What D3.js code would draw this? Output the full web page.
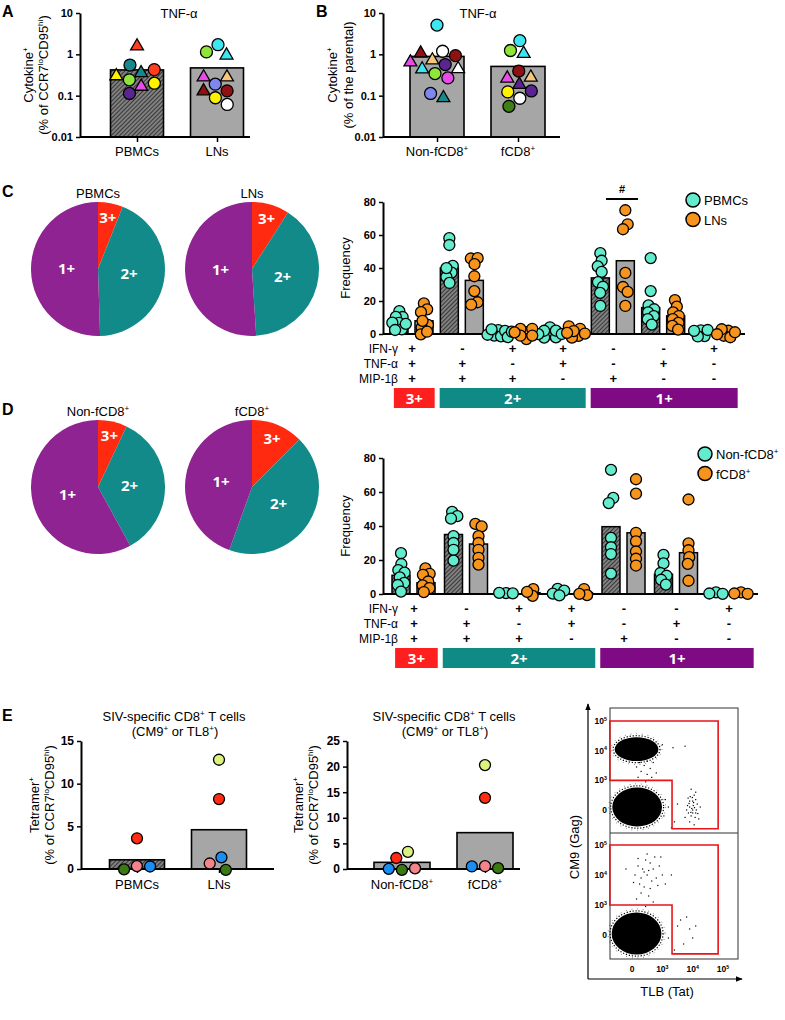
<!DOCTYPE html>
<html>
<head>
<meta charset="utf-8">
<script src="https://cdn.jsdelivr.net/npm/d3@7"></script>
<style>
body { margin: 0; background: #fff; }
</style>
</head>
<body>
<svg id="fig"></svg>
<script>
const FONT = '"Liberation Sans", Arial, Helvetica, sans-serif';

// ---------- data: panel A (TNF-a, % of CCR7lo CD95hi) ----------
const aGroups = ['PBMCs', 'LNs'];
const aMeans = [0.42, 0.47];
const aPbmcAnimals = ['teal', 'red', 'teal', 'red', 'yellow', 'magenta', 'purple', 'yellow', 'lime'];
const aPbmcShapes  = ['c', 't', 't', 'c', 't', 't', 'c', 'c', 'c'];
const aPbmcValues  = [0.54, 1.57, 0.31, 0.41, 0.29, 0.19, 0.13, 0.20, 0.23];
const aLnAnimals = ['cyan', 'cyan', 'lime', 'tan', 'magenta', 'blue', 'darkred', 'darkred', 'yellow', 'white'];
const aLnShapes  = ['c', 't', 'c', 't', 't', 'c', 't', 'c', 'c', 'c'];
const aLnValues  = [1.57, 1.0, 1.18, 0.27, 0.27, 0.19, 0.125, 0.13, 0.095, 0.064];

// ---------- data: panel B (TNF-a, % of parental) ----------
const bGroups = ['Non-fCD8^{+}', 'fCD8^{+}'];
const bMeans = [0.89, 0.51];
const bNonAnimals = ['cyan', 'white', 'tan', 'purple', 'magenta', 'darkred', 'darkred', 'white', 'lime', 'magenta', 'cyan', 'teal', 'blue'];
const bNonShapes  = ['c', 'c', 't', 'c', 't', 'c', 't', 't', 'c', 'c', 't', 't', 'c'];
const bNonValues  = [5.1, 0.85, 0.71, 0.71, 0.71, 0.85, 0.85, 0.43, 0.41, 0.33, 0.43, 0.089, 0.112];
const bFAnimals = ['lime', 'cyan', 'cyan', 'darkred', 'purple', 'tan', 'magenta', 'purple', 'yellow', 'white', 'darkgreen'];
const bFShapes  = ['c', 't', 'c', 'c', 't', 't', 't', 'c', 'c', 'c', 'c'];
const bFValues  = [1.25, 1.06, 2.07, 0.36, 0.19, 0.26, 0.26, 0.13, 0.125, 0.095, 0.057];

// ---------- data: pies ----------
const pieLabels = ['3+', '2+', '1+'];
const cPiePbmc = [6, 43.5, 50.5];
const cPieLn   = [9, 40, 51];
const dPieNon  = [7, 35, 58];
const dPieF    = [12.5, 43, 44.5];

// ---------- data: cytokine combinations ----------
const rowNames = ['IFN-γ', 'TNF-α', 'MIP-1β'];
const ifnSigns = ['+', '-', '+', '+', '-', '-', '+'];
const tnfSigns = ['+', '+', '-', '+', '-', '+', '-'];
const mipSigns = ['+', '+', '+', '-', '+', '-', '-'];
const combo = [{ name: '3+', first: 0, last: 0 }, { name: '2+', first: 1, last: 3 }, { name: '1+', first: 4, last: 6 }];

// panel C: PBMCs vs LNs
const cPbmcMeans = [6, 40, 0.5, 0.5, 34, 16, 0.5];
const cLnMeans   = [8, 32.5, 0.5, 1, 44.4, 11, 0.4];
const cPbmcPoints = [
  [12, 11, 11, 7, 7, 3, 2.5, 6], [58, 54, 40, 38, 35, 31, 40], [0.5, 0.3, 0.6, 0.4, 0.5, 0.3, 0.7, 0.4],
  [0.4, 0.6, 0.3, 0.5, 0.5, 0.7, 0.4, 0.3], [49, 44, 41, 38, 31, 29, 25, 17], [46, 26, 17, 15, 13, 11, 9, 6],
  [2, 0.5, 0.3, 0.6, 0.4]];
const cLnPoints = [
  [18.5, 14.7, 13.5, 5, 4, 1, 6.5, 2], [45, 45, 44, 35, 26, 19, 18], [0.5, 0.3, 0.6, 0.4, 0.5, 0.4, 0.6],
  [3, 2, 0.5, 0.4, 0.6, 0.3, 0.5], [75, 66, 64, 37, 28, 26, 17], [20, 17, 12.5, 11, 9, 7, 5, 3],
  [0.5, 0.4, 0.6, 0.3, 0.5, 0.4]];

// panel D: non-fCD8 vs fCD8
const dNonMeans = [11, 35, 0.5, 1, 39.6, 11.6, 0.5];
const dFMeans   = [6.6, 29.4, 0.8, 0.8, 36, 24.3, 0.5];
const dNonPoints = [
  [24, 17.5, 14, 12.5, 10, 6.3, 5.5, 1.4], [47, 46, 45.5, 34, 30, 26, 19.6], [0.5, 0.4, 0.6],
  [2, 1.5, 0.5, 0.4], [73, 56, 54, 33, 27, 24, 12], [23, 18, 12, 11, 8, 6], [0.5, 0.4, 0.5]];
const dFPoints = [
  [14.7, 12, 11.5, 7, 4.3, 3, 2.7], [41, 40, 34, 30, 26, 21, 17.6], [1.5, 0.5, 1],
  [1, 0.5, 0.8], [67.5, 59, 36, 31, 25, 20.5, 17], [55.6, 29.3, 26.2, 21, 18.4, 7.8], [0.5, 0.4, 0.5]];

// ---------- data: panel E (tetramer+) ----------
const e1Groups = ['PBMCs', 'LNs'];
const e1Means = [1.08, 4.6];
const e1PbmcAnimals = ['red', 'pink', 'green', 'blue'];
const e1PbmcValues  = [3.6, 0.3, 0, 0.3];
const e1LnAnimals = ['pale', 'red', 'blue', 'green', 'pink'];
const e1LnValues  = [12.8, 8.2, 1.1, 0.1, 0.7];
const e2Groups = ['Non-fCD8^{+}', 'fCD8^{+}'];
const e2Means = [1.3, 7.1];
const e2NonAnimals = ['green', 'pink', 'blue', 'pale', 'red'];
const e2NonValues  = [0.1, 0.1, 0.2, 3.3, 1.8];
const e2FAnimals = ['pale', 'red', 'pink', 'green', 'blue'];
const e2FValues  = [20.3, 13.9, 0.5, 0.2, 0.5];

// ---------- data: flow plot (x: 0, 10^3, 10^4, 10^5 -> 0..3) ----------
const flowTicks = ['0', '10^{3}', '10^{4}', '10^{5}'];
const gate = [[-0.73, 3.0], [2.84, 3.0], [2.84, -0.63], [1.32, -0.63], [1.32, 1.0], [-0.73, 1.0]];
const flowTopBlobs = [[0.17, 0.1, 0.82, 0.66], [0.15, 2.05, 0.72, 0.4]];
const flowBotBlobs = [[0.15, 0.05, 0.82, 0.7]];
const flowTopDots = [
  [0.3, 1.3], [0.5, 1.2], [0.4, 1.5], [0.6, 1.4], [0.2, 1.1], [0.7, 1.6], [0.35, 1.75], [0.55, 1.0],
  [0.15, 1.45], [0.8, 1.25], [0.45, 0.95], [0.65, 1.1], [0.25, 1.6], [0.5, 1.65], [1.05, -0.2], [1.2, 0.1],
  [1.4, -0.4], [1.1, 0.35], [1.5, 0.2], [1.3, -0.6], [1.9, 0.1], [2.0, 0.3], [2.1, -0.1], [1.95, -0.2],
  [2.05, 0.5], [1.85, 0.4], [2.15, 0.2], [2.0, 0.0], [1.9, -0.4], [2.1, 0.6], [1.8, 0.0], [2.2, -0.3],
  [2.05, -0.5], [1.95, 0.7], [2.25, 0.1], [1.75, -0.25], [2.0, -0.1], [2.1, 0.35], [1.88, 0.22], [2.02, 0.15],
  [1.97, 0.05], [2.08, -0.25], [1.92, 0.45], [2.12, 0.0], [1.83, 0.15], [2.03, 0.25], [1.94, -0.08], [2.06, 0.08],
  [1.99, 0.42], [1.9, 0.3], [2.17, -0.12], [1.86, -0.1], [1.35, 2.1], [1.75, 2.15], [1.0, 2.2]];
const flowBotDots = [
  [0.2, 2.3], [0.4, 2.1], [0.6, 2.4], [0.3, 1.9], [0.5, 2.0], [0.7, 2.2], [0.8, 1.9], [0.1, 2.0], [0.45, 2.5],
  [0.65, 1.8], [0.35, 2.2], [0.55, 2.15], [0.9, 2.3], [0.25, 1.7], [0.75, 2.6], [0.05, 1.75], [1.0, 2.0],
  [0.4, 1.6], [0.6, 1.55], [0.2, 2.55], [0.85, 1.65], [0.5, 2.7], [0.3, 1.4], [0.15, 1.2], [0.55, 1.3],
  [0.7, 1.1], [0.45, 0.95], [1.3, 2.0], [-0.2, 2.2], [1.1, 1.7], [0.95, 2.6], [1.2, -0.1], [1.5, 0.3],
  [1.7, -0.3], [1.9, 0.2], [1.6, 0.5], [2.0, -0.1], [1.4, -0.5], [1.8, 0.6], [2.1, 0.3]];

// ---------- styles ----------
const animalColor = {
  teal: '#17898c', red: '#ff3d1f', yellow: '#fff200', lime: '#8fe53a', magenta: '#e84ce6', purple: '#5a2590',
  cyan: '#3ee6f2', tan: '#f4c77c', blue: '#7f86ee', darkred: '#8e1212', white: '#ffffff', darkgreen: '#3f7f16'
};
const tetColor = { red: '#ff2b12', pink: '#f4838a', green: '#3a7a10', blue: '#1b8ef2', pale: '#dcf27e' };
const pieColors = ['#ff2a10', '#128a8a', '#8e2391'];
const boxColors = ['#ff1f1f', '#0f8a84', '#7e0b83'];
const dotColors = ['#62ebcd', '#f7941d'];

const svg = d3.select('svg#fig').attr('width', 785).attr('height', 1020).style('font-family', FONT);
const defs = svg.append('defs');
const pat = defs.append('pattern').attr('id', 'hatch').attr('patternUnits', 'userSpaceOnUse')
  .attr('width', 3).attr('height', 3).attr('patternTransform', 'rotate(45)');
pat.append('rect').attr('width', 3).attr('height', 3).attr('fill', '#808080');
pat.append('line').attr('x1', 0).attr('y1', 0).attr('x2', 0).attr('y2', 3).attr('stroke', '#202020').attr('stroke-width', 1.5);
defs.append('marker').attr('id', 'arrow').attr('viewBox', '0 0 10 10').attr('refX', 9).attr('refY', 5)
  .attr('markerWidth', 6).attr('markerHeight', 6).attr('orient', 'auto')
  .append('path').attr('d', 'M0,1L10,5L0,9Z').attr('fill', '#000');

// text with ^{superscript}
function rich(t, str, size) {
  const parts = str.split(/(\^\{[^}]*\})/).filter(Boolean);
  let cur = 0;
  parts.forEach(p => {
    if (p.startsWith('^{')) {
      const target = -size * 0.38;
      t.append('tspan').attr('font-size', size * 0.62).attr('dy', target - cur).text(p.slice(2, -1));
      cur = target;
    } else {
      t.append('tspan').attr('dy', -cur).text(p);
      cur = 0;
    }
  });
}
function txt(x, y, str, size, o = {}) {
  const t = svg.append('text').attr('x', x).attr('y', y).attr('font-size', size)
    .attr('text-anchor', o.anchor || 'middle').attr('font-weight', o.weight || 'normal')
    .attr('fill', o.fill || '#000').attr('font-family', o.family || FONT);
  if (o.rotate) t.attr('transform', `rotate(-90,${x},${y})`);
  rich(t, str, size);
  return t;
}
function styleAxis(g, size = 11) {
  g.attr('font-family', FONT);
  g.select('.domain').attr('stroke', '#000').attr('stroke-width', 2);
  g.selectAll('.tick line').attr('stroke', '#000').attr('stroke-width', 1.5);
  g.selectAll('.tick text').attr('font-size', size).attr('font-weight', 'bold').attr('fill', '#000');
}
function hline(x1, x2, y, w = 2) {
  svg.append('line').attr('x1', x1).attr('x2', x2).attr('y1', y).attr('y2', y).attr('stroke', '#000').attr('stroke-width', w);
}

// beeswarm via force layout
function swarm(items, r, sx) {
  const nodes = items.map((d, i) => Object.assign({}, d, { x: d.tx + (i % 2 ? 1 : -1) * (0.5 + i * 0.6), y: d.ty }));
  const sim = d3.forceSimulation(nodes)
    .force('x', d3.forceX(d => d.tx).strength(sx))
    .force('y', d3.forceY(d => d.ty).strength(0.6))
    .force('collide', d3.forceCollide(r))
    .stop();
  for (let i = 0; i < 260; i++) sim.tick();
  return nodes;
}
function marker(n, color, shape, r) {
  if (shape === 't') {
    svg.append('path').attr('d', d3.symbol(d3.symbolTriangle, r * r * 2.0)())
      .attr('transform', `translate(${n.x},${n.y})`)
      .attr('fill', color).attr('stroke', '#000').attr('stroke-width', 1.3);
  } else {
    svg.append('circle').attr('cx', n.x).attr('cy', n.y).attr('r', r)
      .attr('fill', color).attr('stroke', '#000').attr('stroke-width', 1.3);
  }
}

// ---------- A / B: log bar+dot panels ----------
function logPanel(p) {
  const y = d3.scaleLog().domain([0.01, 10]).range([137, 13]);
  const x = d3.scalePoint().domain(p.groups).range(p.xRange);
  svg.append('g').selectAll('rect').data(p.means).join('rect')
    .attr('x', (d, i) => x(p.groups[i]) - p.barW / 2).attr('width', p.barW)
    .attr('y', d => y(d)).attr('height', d => 137 - y(d))
    .attr('fill', (d, i) => p.fills[i]).attr('stroke', '#000').attr('stroke-width', 1.6);
  styleAxis(svg.append('g').attr('transform', `translate(${p.axisX},0)`)
    .call(d3.axisLeft(y).tickValues([0.01, 0.1, 1, 10]).tickFormat(d3.format('~g')).tickSize(4).tickSizeOuter(0)));
  hline(p.axisX, p.axisEnd, 137);
  const xa = svg.append('g').attr('transform', 'translate(0,137)').call(d3.axisBottom(x).tickSize(5).tickFormat(''));
  xa.select('.domain').remove();
  styleAxis(xa);
  p.groups.forEach(g => txt(x(g), 156, g, 13));
  p.sets.forEach((s, gi) => {
    const items = s.values.map((v, i) => ({ tx: x(p.groups[gi]), ty: y(v), animal: s.animals[i], shape: s.shapes[i] }));
    swarm(items, 6.8, 0.05).forEach(n => marker(n, animalColor[n.animal], n.shape, 6));
  });
  txt(p.titleX, 18, 'TNF-α', 13);
  txt(p.yl1X, 75, 'Cytokine^{+}', 13, { rotate: true });
  txt(p.yl2X, 75, p.yl2, 13, { rotate: true });
  txt(p.letterX, 17, p.letter, 16, { anchor: 'start', weight: 'bold' });
}

logPanel({
  groups: aGroups, means: aMeans, xRange: [137, 217], barW: 53, axisX: 80, axisEnd: 250,
  fills: ['url(#hatch)', '#a6a6a6'],
  sets: [{ values: aPbmcValues, animals: aPbmcAnimals, shapes: aPbmcShapes },
         { values: aLnValues, animals: aLnAnimals, shapes: aLnShapes }],
  titleX: 179, yl1X: 33, yl2X: 48, yl2: '(% of CCR7^{lo}CD95^{hi})', letter: 'A', letterX: 2
});
logPanel({
  groups: bGroups, means: bMeans, xRange: [437, 518], barW: 54, axisX: 383, axisEnd: 560,
  fills: ['#a6a6a6', '#a6a6a6'],
  sets: [{ values: bNonValues, animals: bNonAnimals, shapes: bNonShapes },
         { values: bFValues, animals: bFAnimals, shapes: bFShapes }],
  titleX: 478, yl1X: 337, yl2X: 353, yl2: '(% of the parental)', letter: 'B', letterX: 316
});

// ---------- pies ----------
function pie(cx, cy, r, values, title, titleY) {
  const arcs = d3.pie().sort(null)(values);
  const arc = d3.arc().innerRadius(0).outerRadius(r);
  svg.append('g').attr('transform', `translate(${cx},${cy})`)
    .selectAll('path').data(arcs).join('path').attr('d', arc).attr('fill', (d, i) => pieColors[i]);
  arcs.forEach((a, i) => {
    const lr = i === 0 ? r * 0.78 : r * 0.47;
    const c = d3.arc().innerRadius(lr).outerRadius(lr).centroid(a);
    txt(cx + c[0], cy + c[1] + 5, pieLabels[i], 15, { weight: 'bold', fill: '#fff', family: '"Open Sans", sans-serif' });
  });
  txt(cx, titleY, title, 13);
}
pie(98, 269, 67, cPiePbmc, 'PBMCs', 198);
pie(252, 269, 67, cPieLn, 'LNs', 198);
pie(98, 487, 67, dPieNon, 'Non-fCD8^{+}', 416);
pie(252, 487, 67, dPieF, 'fCD8^{+}', 416);
txt(2, 197, 'C', 16, { anchor: 'start', weight: 'bold' });
txt(2, 415, 'D', 16, { anchor: 'start', weight: 'bold' });

// ---------- C / D: frequency panels ----------
function freqPanel(p) {
  const y = d3.scaleLinear().domain([0, 80]).range([p.y0, p.y0 - p.h]);
  const gx = d3.scalePoint().domain(d3.range(7)).range(p.gRange);
  const step = gx.step();
  const off = [-13, 12];
  [p.meansA, p.meansB].forEach((means, s) => {
    svg.append('g').selectAll('rect').data(means).join('rect')
      .attr('x', (d, i) => gx(i) + off[s] - 9).attr('width', 18)
      .attr('y', d => y(d)).attr('height', d => p.y0 - y(d))
      .attr('fill', s ? '#a6a6a6' : 'url(#hatch)').attr('stroke', '#000').attr('stroke-width', 1.5);
  });
  styleAxis(svg.append('g').attr('transform', `translate(383,0)`)
    .call(d3.axisLeft(y).tickValues([0, 20, 40, 60, 80]).tickSize(4).tickSizeOuter(0)));
  hline(383, p.axisEnd, p.y0);
  [p.pointsA, p.pointsB].forEach((pts, s) => {
    pts.forEach((vals, gi) => {
      const items = vals.map(v => ({ tx: gx(gi) + off[s], ty: y(v) }));
      swarm(items, 3.4, 0.2).forEach(n => marker(n, dotColors[s], 'c', 5.5));
    });
  });
  txt(350, p.y0 - p.h / 2, 'Frequency', 13, { rotate: true });
  [ifnSigns, tnfSigns, mipSigns].forEach((signs, r) => {
    const ry = p.y0 + 19 + r * 15;
    txt(398, ry, rowNames[r], 12, { anchor: 'end' });
    signs.forEach((sg, i) => txt(gx(i), ry, sg, 13, { weight: 'bold' }));
  });
  combo.forEach((c, k) => {
    const x1 = k === 0 ? gx(0) - step * 0.36 : (gx(c.first) + gx(c.first - 1)) / 2 + 2.5;
    const x2 = k === 2 ? gx(6) + step * 0.47 : (gx(c.last) + gx(c.last + 1)) / 2 - 2.5;
    svg.append('rect').attr('x', x1).attr('y', p.y0 + 54).attr('width', x2 - x1).attr('height', 20).attr('fill', boxColors[k]);
    txt((x1 + x2) / 2, p.y0 + 70, c.name, 15, { weight: 'bold', fill: '#fff', family: '"Open Sans", sans-serif' });
  });
  p.legend.forEach((l, i) => {
    svg.append('circle').attr('cx', p.legX).attr('cy', p.legY + i * 19.5).attr('r', 7)
      .attr('fill', dotColors[i]).attr('stroke', '#000').attr('stroke-width', 1.5);
    txt(p.legX + 11, p.legY + i * 19.5 + 5, l, 13, { anchor: 'start' });
  });
}
freqPanel({
  y0: 334, h: 132, gRange: [412, 714], axisEnd: 745, meansA: cPbmcMeans, meansB: cLnMeans,
  pointsA: cPbmcPoints, pointsB: cLnPoints, legend: ['PBMCs', 'LNs'], legX: 693, legY: 200
});
hline(606, 638, 199, 2);
txt(622, 193, '#', 11, { weight: 'bold' });
freqPanel({
  y0: 594, h: 136, gRange: [414, 729], axisEnd: 758, meansA: dNonMeans, meansB: dFMeans,
  pointsA: dNonPoints, pointsB: dFPoints, legend: ['Non-fCD8^{+}', 'fCD8^{+}'], legX: 705, legY: 454
});

// ---------- E: tetramer panels ----------
function ePanel(p) {
  const y = d3.scaleLinear().domain([0, p.max]).range([869, 741]);
  const x = d3.scalePoint().domain(p.groups).range(p.xRange);
  svg.append('g').selectAll('rect').data(p.means).join('rect')
    .attr('x', (d, i) => x(p.groups[i]) - p.barW / 2).attr('width', p.barW)
    .attr('y', d => y(d)).attr('height', d => 869 - y(d))
    .attr('fill', (d, i) => p.fills[i]).attr('stroke', '#000').attr('stroke-width', 1.6);
  styleAxis(svg.append('g').attr('transform', `translate(${p.axisX},0)`)
    .call(d3.axisLeft(y).tickValues(p.ticks).tickSize(4).tickSizeOuter(0)), 12);
  hline(p.axisX, p.axisEnd, 869);
  const xa = svg.append('g').attr('transform', 'translate(0,869)').call(d3.axisBottom(x).tickSize(4).tickFormat(''));
  xa.select('.domain').remove();
  styleAxis(xa);
  p.groups.forEach(g => txt(x(g), 889, g, 13));
  p.sets.forEach((s, gi) => {
    const items = s.values.map((v, i) => ({ tx: x(p.groups[gi]), ty: y(v), animal: s.animals[i] }));
    swarm(items, 6.6, 0.06).forEach(n => marker(n, tetColor[n.animal], 'c', 5.5));
  });
  txt(p.titleX, 721, 'SIV-specific CD8^{+} T cells', 13);
  txt(p.titleX + 1, 736, '(CM9^{+} or TL8^{+})', 13);
  txt(p.yl1X, 805, 'Tetramer^{+}', 13, { rotate: true });
  txt(p.yl1X + 15, 805, '(% of CCR7^{lo}CD95^{hi})', 13, { rotate: true });
}
ePanel({
  groups: e1Groups, means: e1Means, max: 15, ticks: [0, 5, 10, 15], xRange: [137, 219], barW: 55,
  axisX: 81, axisEnd: 274, fills: ['url(#hatch)', '#a6a6a6'],
  sets: [{ values: e1PbmcValues, animals: e1PbmcAnimals }, { values: e1LnValues, animals: e1LnAnimals }],
  titleX: 174, yl1X: 39
});
ePanel({
  groups: e2Groups, means: e2Means, max: 25, ticks: [0, 5, 10, 15, 20, 25], xRange: [402, 485], barW: 56,
  axisX: 347, axisEnd: 520, fills: ['#a6a6a6', '#a6a6a6'],
  sets: [{ values: e2NonValues, animals: e2NonAnimals }, { values: e2FValues, animals: e2FAnimals }],
  titleX: 444, yl1X: 303
});
txt(2, 721, 'E', 16, { anchor: 'start', weight: 'bold' });

// ---------- E: flow plot ----------
const fx = d3.scaleLinear().domain([0, 3]).range([632, 723]);
const fyTop = d3.scaleLinear().domain([0, 3]).range([810, 721]);
const fyBot = d3.scaleLinear().domain([0, 3]).range([935, 845]);
const flowG = svg.append('g');
flowG.append('rect').attr('x', 610).attr('y', 708).attr('width', 128).attr('height', 251)
  .attr('fill', 'none').attr('stroke', '#333').attr('stroke-width', 1);
flowG.append('line').attr('x1', 610).attr('x2', 738).attr('y1', 833).attr('y2', 833).attr('stroke', '#333');
[[fyTop, flowTopBlobs, flowTopDots], [fyBot, flowBotBlobs, flowBotDots]].forEach(([fy, blobs, dots]) => {
  blobs.forEach(b => {
    const rx = fx(b[2]) - fx(0), ry = fy(0) - fy(b[3]);
    flowG.append('ellipse').attr('cx', fx(b[0])).attr('cy', fy(b[1])).attr('rx', rx).attr('ry', ry).attr('fill', '#000');
    [1.6, 3.6].forEach((d, k) => flowG.append('ellipse').attr('cx', fx(b[0])).attr('cy', fy(b[1]))
      .attr('rx', rx + d).attr('ry', ry + d).attr('fill', 'none').attr('stroke', '#000')
      .attr('stroke-width', k ? 0.7 : 1.2).attr('stroke-dasharray', k ? '0.7 5' : '1.2 1.8'));
  });
  flowG.selectAll(null).data(dots).join('rect')
    .attr('x', d => fx(d[0]) - 0.6).attr('y', d => fy(d[1]) - 0.6).attr('width', 1.2).attr('height', 1.2).attr('fill', '#000');
  flowG.append('path').attr('d', d3.line().x(d => fx(d[0])).y(d => fy(d[1]))(gate) + 'Z')
    .attr('fill', 'none').attr('stroke', '#e8151b').attr('stroke-width', 1.6);
  flowTicks.forEach((t, i) => txt(607, fy(i) + 3, t, 8.5, { anchor: 'end', weight: 'bold' }));
});
flowTicks.forEach((t, i) => txt(fx(i), 972, t, 8.5, { weight: 'bold' }));
flowG.append('line').attr('x1', 588).attr('x2', 588).attr('y1', 979).attr('y2', 704)
  .attr('stroke', '#000').attr('stroke-width', 1.2).attr('marker-end', 'url(#arrow)');
flowG.append('line').attr('x1', 588).attr('x2', 742).attr('y1', 979).attr('y2', 979)
  .attr('stroke', '#000').attr('stroke-width', 1.2).attr('marker-end', 'url(#arrow)');
txt(579, 847, 'CM9 (Gag)', 13, { rotate: true });
txt(667, 996, 'TLB (Tat)', 13);
</script>
</body>
</html>
